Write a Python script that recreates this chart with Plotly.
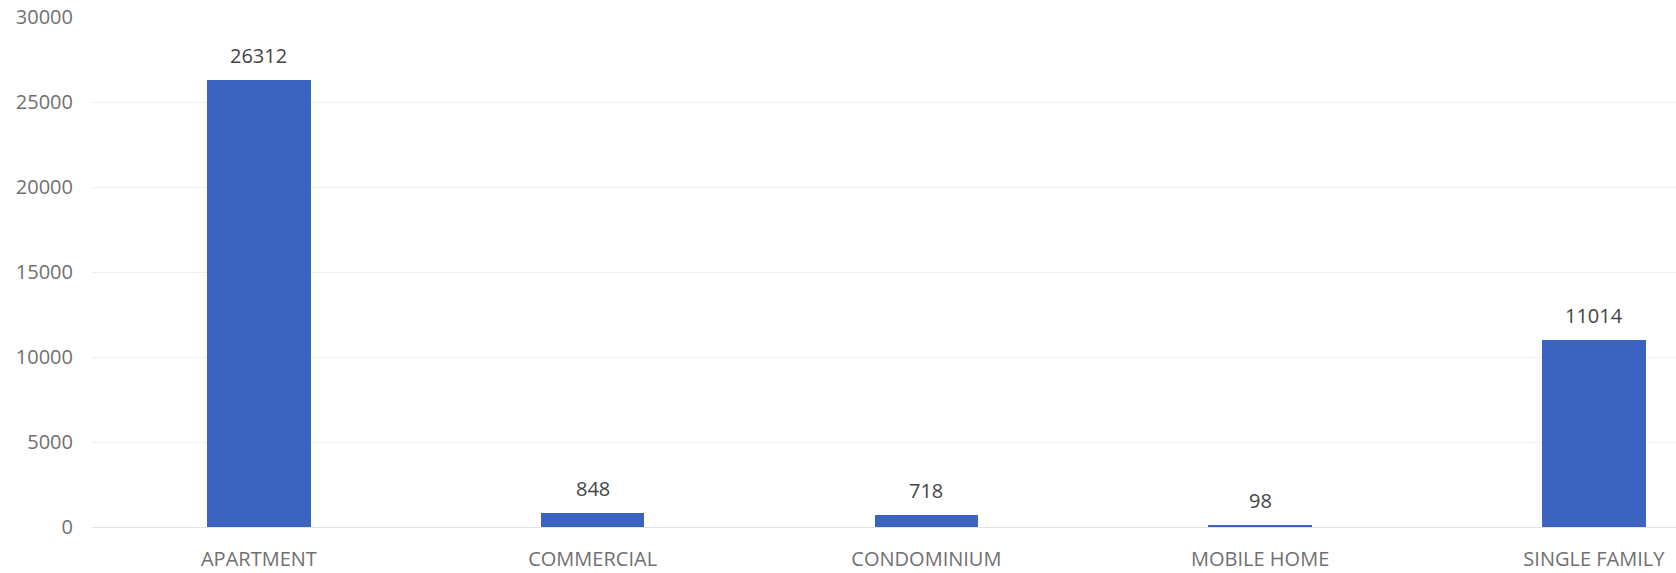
import plotly.graph_objects as go

categories = ["APARTMENT", "COMMERCIAL", "CONDOMINIUM", "MOBILE HOME", "SINGLE FAMILY"]
values = [26312, 848, 718, 98, 11014]
y_ticks = [0, 5000, 10000, 15000, 20000, 25000, 30000]

fig = go.Figure(go.Bar(
    x=categories,
    y=values,
    width=0.31,
    marker=dict(color="#3a64c0", line=dict(width=0)),
    hoverinfo="x+y",
))

for c, v in zip(categories, values):
    fig.add_annotation(
        x=c, y=v, text=str(v), showarrow=False,
        yanchor="bottom", yshift=9,
        font=dict(family="Open Sans", size=20, color="#444444"),
    )

fig.update_layout(
    width=1676, height=573,
    margin=dict(l=92, r=0, t=17, b=46),
    paper_bgcolor="white", plot_bgcolor="white",
    showlegend=False,
    bargap=0,
    xaxis=dict(
        range=[-0.5, 4.246],
        showgrid=False, showline=False, zeroline=False,
        tickfont=dict(family="Open Sans", size=20, color="#707070"),
        ticklabelstandoff=18,
    ),
    yaxis=dict(
        range=[0, 30000],
        tickvals=y_ticks,
        ticktext=[str(v) for v in y_ticks],
        showgrid=True, gridcolor="#efefef", gridwidth=1,
        zeroline=True, zerolinecolor="#e2e2e2", zerolinewidth=1,
        showline=False,
        tickfont=dict(family="Open Sans", size=20, color="#707070"),
        ticklabelstandoff=18,
    ),
)

fig.write_html("out.html")
